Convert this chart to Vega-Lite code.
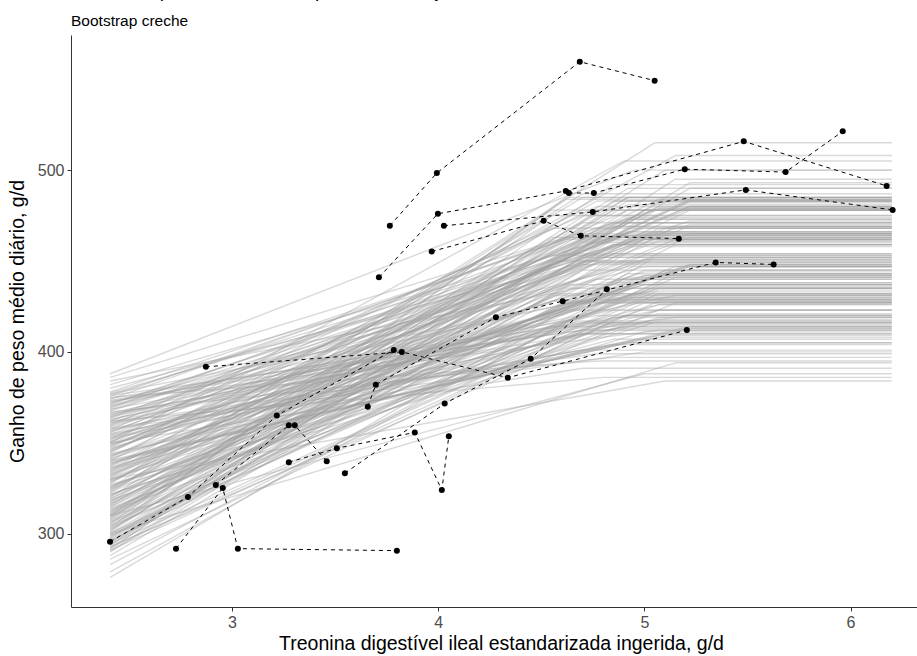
{
"$schema": "https://vega.github.io/schema/vega-lite/v6.json",
"width": 860, "height": 572,
"autosize": {"type": "none"},
"padding": {"left": 71, "top": 35, "right": 0, "bottom": 49},
"background": "white",
"config": {"view": {"stroke": null}, "font": "Liberation Sans",
 "axis": {"grid": false, "domainColor": "#333333", "tickColor": "#333333", "labelColor": "#4d4d4d", "labelFontSize": 16, "titleFontSize": 19.5, "titleFontWeight": "normal", "titleColor": "black", "labelFont": "Liberation Sans", "titleFont": "Liberation Sans", "tickSize": 4, "domainWidth": 1, "tickWidth": 1}},
"title": {"text": "Ganho de peso médio diário para cada conjunto de dados", "subtitle": "Bootstrap creche", "anchor": "start", "frame": "group", "fontSize": 19, "fontWeight": "normal", "color": "black", "subtitleFontSize": 15.5, "subtitleColor": "black", "subtitleFont": "Liberation Sans", "font": "Liberation Sans", "offset": 6, "subtitlePadding": 13},
"datasets": {
"boot": [
{"a":290,"k":4.70,"p":445},{"a":291,"k":5.07,"p":428},{"a":292,"k":4.62,"p":454},{"a":293,"k":5.15,"p":427},{"a":294,"k":4.70,"p":461},{"a":295,"k":5.15,"p":495},{"a":296,"k":4.62,"p":435},{"a":297,"k":5.15,"p":469},{"a":298,"k":4.70,"p":460},{"a":299,"k":5.15,"p":443},
{"a":300,"k":4.85,"p":459},{"a":301,"k":4.92,"p":485},{"a":302,"k":5.22,"p":493},{"a":303,"k":4.55,"p":475},{"a":304,"k":4.85,"p":492},{"a":305,"k":4.92,"p":441},{"a":306,"k":4.70,"p":432},{"a":307,"k":4.77,"p":440},{"a":308,"k":4.92,"p":483},{"a":309,"k":4.77,"p":449},
{"a":310,"k":5.00,"p":465},{"a":311,"k":4.55,"p":431},{"a":312,"k":4.70,"p":465},{"a":313,"k":5.15,"p":447},{"a":314,"k":5.07,"p":438},{"a":315,"k":4.85,"p":438},{"a":316,"k":5.07,"p":480},{"a":317,"k":4.62,"p":437},{"a":318,"k":4.77,"p":429},{"a":319,"k":4.92,"p":471},
{"a":320,"k":4.70,"p":487},{"a":321,"k":5.00,"p":453},{"a":322,"k":5.00,"p":411},{"a":323,"k":4.70,"p":427},{"a":324,"k":4.85,"p":478},{"a":325,"k":5.22,"p":478},{"a":326,"k":5.07,"p":443},{"a":327,"k":5.07,"p":417},{"a":328,"k":4.92,"p":485},{"a":329,"k":5.07,"p":468},
{"a":330,"k":4.70,"p":416},{"a":331,"k":4.85,"p":459},{"a":332,"k":5.07,"p":484},{"a":333,"k":4.55,"p":432},{"a":334,"k":5.22,"p":483},{"a":335,"k":4.77,"p":483},{"a":336,"k":5.00,"p":431},{"a":337,"k":5.22,"p":465},{"a":338,"k":5.22,"p":448},{"a":339,"k":5.22,"p":414},
{"a":340,"k":4.92,"p":405},{"a":341,"k":5.22,"p":447},{"a":342,"k":4.92,"p":473},{"a":343,"k":5.07,"p":421},{"a":344,"k":4.85,"p":404},{"a":345,"k":5.22,"p":480},{"a":346,"k":5.00,"p":462},{"a":347,"k":5.00,"p":437},{"a":348,"k":5.22,"p":479},{"a":349,"k":5.00,"p":437},
{"a":350,"k":5.07,"p":436},{"a":351,"k":5.00,"p":444},{"a":352,"k":4.70,"p":478},{"a":353,"k":5.07,"p":418},{"a":354,"k":5.07,"p":426},{"a":355,"k":4.70,"p":401},{"a":356,"k":4.85,"p":459},{"a":357,"k":4.55,"p":468},{"a":358,"k":5.07,"p":408},{"a":359,"k":5.00,"p":451},
{"a":360,"k":5.00,"p":433},{"a":361,"k":4.77,"p":399},{"a":362,"k":4.55,"p":450},{"a":363,"k":4.77,"p":415},{"a":364,"k":4.92,"p":466},{"a":365,"k":4.77,"p":449},{"a":366,"k":4.92,"p":414},{"a":367,"k":4.85,"p":397},{"a":368,"k":5.07,"p":465},{"a":369,"k":4.92,"p":473},
{"a":370,"k":5.22,"p":472},{"a":371,"k":4.85,"p":464},{"a":372,"k":4.92,"p":447},{"a":373,"k":5.07,"p":412},{"a":374,"k":4.62,"p":463},{"a":375,"k":4.77,"p":395},{"a":376,"k":5.15,"p":419},{"a":377,"k":4.70,"p":428},{"a":378,"k":4.62,"p":462},
{"a":290.5,"k":5.07,"p":479},{"a":291.5,"k":4.70,"p":471},{"a":292.5,"k":4.85,"p":419},{"a":293.5,"k":5.00,"p":478},{"a":294.5,"k":5.00,"p":427},{"a":295.5,"k":4.62,"p":427},{"a":296.5,"k":4.92,"p":435},{"a":297.5,"k":4.70,"p":452},{"a":298.5,"k":4.92,"p":443},{"a":299.5,"k":5.15,"p":459},
{"a":300.5,"k":5.07,"p":434},{"a":301.5,"k":4.62,"p":485},{"a":302.5,"k":4.70,"p":450},{"a":303.5,"k":5.15,"p":441},{"a":304.5,"k":4.77,"p":416},{"a":305.5,"k":4.62,"p":484},{"a":306.5,"k":5.07,"p":432},{"a":307.5,"k":4.92,"p":466},{"a":308.5,"k":4.85,"p":483},{"a":309.5,"k":5.22,"p":490},
{"a":310.5,"k":4.92,"p":490},{"a":311.5,"k":5.07,"p":482},{"a":312.5,"k":4.85,"p":413},{"a":313.5,"k":4.92,"p":430},{"a":314.5,"k":4.77,"p":464},{"a":315.5,"k":4.92,"p":481},{"a":316.5,"k":4.77,"p":429},{"a":317.5,"k":4.55,"p":463},{"a":318.5,"k":4.77,"p":412},{"a":319.5,"k":5.00,"p":445},
{"a":320.5,"k":5.00,"p":462},{"a":321.5,"k":5.07,"p":419},{"a":322.5,"k":4.55,"p":478},{"a":323.5,"k":4.85,"p":469},{"a":324.5,"k":4.70,"p":410},{"a":325.5,"k":5.07,"p":435},{"a":326.5,"k":5.07,"p":426},{"a":327.5,"k":4.70,"p":485},{"a":328.5,"k":5.00,"p":451},{"a":329.5,"k":5.07,"p":442},
{"a":330.5,"k":5.00,"p":442},{"a":331.5,"k":5.22,"p":484},{"a":332.5,"k":5.00,"p":441},{"a":333.5,"k":5.00,"p":466},{"a":334.5,"k":5.22,"p":483},{"a":335.5,"k":4.85,"p":407},{"a":336.5,"k":5.07,"p":423},{"a":337.5,"k":4.92,"p":474},{"a":338.5,"k":5.22,"p":448},{"a":339.5,"k":4.92,"p":405},
{"a":340.5,"k":5.22,"p":413},{"a":341.5,"k":5.22,"p":447},{"a":342.5,"k":5.22,"p":463},{"a":343.5,"k":5.00,"p":429},{"a":344.5,"k":4.77,"p":480},{"a":345.5,"k":5.22,"p":480},{"a":346.5,"k":4.55,"p":428},{"a":347.5,"k":5.07,"p":479},{"a":348.5,"k":4.85,"p":454},{"a":349.5,"k":4.70,"p":410},
{"a":350.5,"k":5.07,"p":461},{"a":351.5,"k":4.92,"p":478},{"a":352.5,"k":5.07,"p":409},{"a":353.5,"k":5.07,"p":435},{"a":354.5,"k":5.22,"p":469},{"a":355.5,"k":4.85,"p":469},{"a":356.5,"k":4.70,"p":417},{"a":357.5,"k":5.00,"p":400},{"a":358.5,"k":5.00,"p":442},{"a":359.5,"k":4.70,"p":475},
{"a":360.5,"k":4.92,"p":458},{"a":361.5,"k":4.77,"p":416},{"a":362.5,"k":4.62,"p":423},{"a":363.5,"k":5.07,"p":466},{"a":364.5,"k":4.85,"p":423},{"a":365.5,"k":5.07,"p":423},{"a":366.5,"k":5.15,"p":431},{"a":367.5,"k":4.70,"p":448},{"a":368.5,"k":4.55,"p":414},{"a":369.5,"k":5.00,"p":447},
{"a":370.5,"k":4.77,"p":430},{"a":371.5,"k":4.92,"p":464},{"a":372.5,"k":4.77,"p":420},{"a":373.5,"k":4.70,"p":412},{"a":374.5,"k":4.92,"p":420},{"a":375.5,"k":4.85,"p":471},{"a":376.5,"k":4.55,"p":453},{"a":377.5,"k":5.22,"p":470},
{"a":276,"k":5.05,"p":452},{"a":279,"k":4.95,"p":437},{"a":283,"k":5.10,"p":445},{"a":286,"k":4.90,"p":420},{"a":288,"k":5.00,"p":462},{"a":380,"k":4.80,"p":452},{"a":382,"k":5.00,"p":468},{"a":384,"k":4.90,"p":440},{"a":386,"k":5.05,"p":478},{"a":388,"k":4.95,"p":500},
{"a":325,"k":5.05,"p":515},{"a":340,"k":5.15,"p":508},{"a":350,"k":4.90,"p":505},{"a":310,"k":5.10,"p":500},{"a":330,"k":5.10,"p":384},{"a":310,"k":5.00,"p":388},{"a":350,"k":4.70,"p":391},{"a":300,"k":5.15,"p":394},{"a":362,"k":4.80,"p":386}
],
"obs": [
{"s":"S1","x":3.766,"y":469.4},{"s":"S1","x":3.994,"y":498.4},{"s":"S1","x":4.687,"y":559.6},{"s":"S1","x":5.050,"y":549.2},
{"s":"S2","x":3.713,"y":441.0},{"s":"S2","x":3.999,"y":476.0},{"s":"S2","x":4.619,"y":488.5},{"s":"S2","x":5.482,"y":515.8},{"s":"S2","x":6.175,"y":491.3},
{"s":"S3","x":4.028,"y":469.4},{"s":"S3","x":4.750,"y":477.0},{"s":"S3","x":5.492,"y":489.1},{"s":"S3","x":6.204,"y":478.1},
{"s":"S4","x":3.969,"y":455.2},{"s":"S4","x":4.512,"y":472.1},{"s":"S4","x":4.692,"y":463.9},{"s":"S4","x":5.167,"y":462.3},
{"s":"S5","x":4.634,"y":487.4},{"s":"S5","x":4.755,"y":487.4},{"s":"S5","x":5.196,"y":500.5},{"s":"S5","x":5.685,"y":498.9},{"s":"S5","x":5.962,"y":521.3},
{"s":"A","x":2.729,"y":291.8},{"s":"A","x":2.956,"y":325.1},{"s":"A","x":3.029,"y":291.8},{"s":"A","x":3.800,"y":290.7},
{"s":"B","x":2.409,"y":295.6},{"s":"B","x":2.787,"y":320.2},{"s":"B","x":3.218,"y":365.0},{"s":"B","x":3.785,"y":401.1},
{"s":"C","x":2.874,"y":391.8},{"s":"C","x":3.824,"y":400.0},{"s":"C","x":4.338,"y":385.8},{"s":"C","x":5.206,"y":412.0},
{"s":"D","x":2.922,"y":326.8},{"s":"D","x":3.276,"y":359.6},{"s":"D","x":3.305,"y":359.6},{"s":"D","x":3.460,"y":339.9},
{"s":"E","x":3.276,"y":339.3},{"s":"E","x":3.509,"y":347.0},{"s":"E","x":3.887,"y":355.7},{"s":"E","x":4.018,"y":324.0},{"s":"E","x":4.052,"y":353.6},
{"s":"F","x":3.548,"y":333.3},{"s":"F","x":4.032,"y":371.6},{"s":"F","x":4.449,"y":396.2},{"s":"F","x":4.818,"y":434.4},
{"s":"G","x":3.659,"y":369.9},{"s":"G","x":3.698,"y":382.0},{"s":"G","x":4.280,"y":419.1},{"s":"G","x":4.604,"y":427.9},{"s":"G","x":5.346,"y":449.2},{"s":"G","x":5.627,"y":448.1}
]
},
"layer": [
{"data": {"name": "boot"},
 "mark": {"type": "rule", "color": "#a0a0a0", "opacity": 0.4, "strokeWidth": 1.4},
 "encoding": {
  "x": {"field": "k", "type": "quantitative", "title": "Treonina digestível ileal estandarizada ingerida, g/d", "scale": {"domain": [2.22, 6.39], "nice": false, "zero": false}, "axis": {"values": [3, 4, 5, 6], "format": "d", "labelPadding": 3, "titlePadding": 4}},
  "y": {"field": "p", "type": "quantitative", "title": "Ganho de peso médio diário, g/d", "scale": {"domain": [259.7, 574.3], "nice": false, "zero": false}, "axis": {"values": [300, 400, 500], "format": "d", "labelPadding": 3, "titlePadding": 10}},
  "x2": {"datum": 2.41}, "y2": {"field": "a"}}},
{"data": {"name": "boot"},
 "mark": {"type": "rule", "color": "#a0a0a0", "opacity": 0.4, "strokeWidth": 1.4},
 "encoding": {
  "x": {"field": "k", "type": "quantitative", "title": "Treonina digestível ileal estandarizada ingerida, g/d"},
  "y": {"field": "p", "type": "quantitative", "title": "Ganho de peso médio diário, g/d"},
  "x2": {"datum": 6.2}, "y2": {"field": "p"}}},
{"data": {"name": "obs"},
 "mark": {"type": "line", "color": "black", "strokeDash": [4, 4], "strokeWidth": 1},
 "encoding": {
  "x": {"field": "x", "type": "quantitative", "title": "Treonina digestível ileal estandarizada ingerida, g/d"},
  "y": {"field": "y", "type": "quantitative", "title": "Ganho de peso médio diário, g/d"},
  "detail": {"field": "s"}}},
{"data": {"name": "obs"},
 "mark": {"type": "circle", "color": "black", "opacity": 1, "size": 36},
 "encoding": {
  "x": {"field": "x", "type": "quantitative", "title": "Treonina digestível ileal estandarizada ingerida, g/d"},
  "y": {"field": "y", "type": "quantitative", "title": "Ganho de peso médio diário, g/d"}}}
]
}
